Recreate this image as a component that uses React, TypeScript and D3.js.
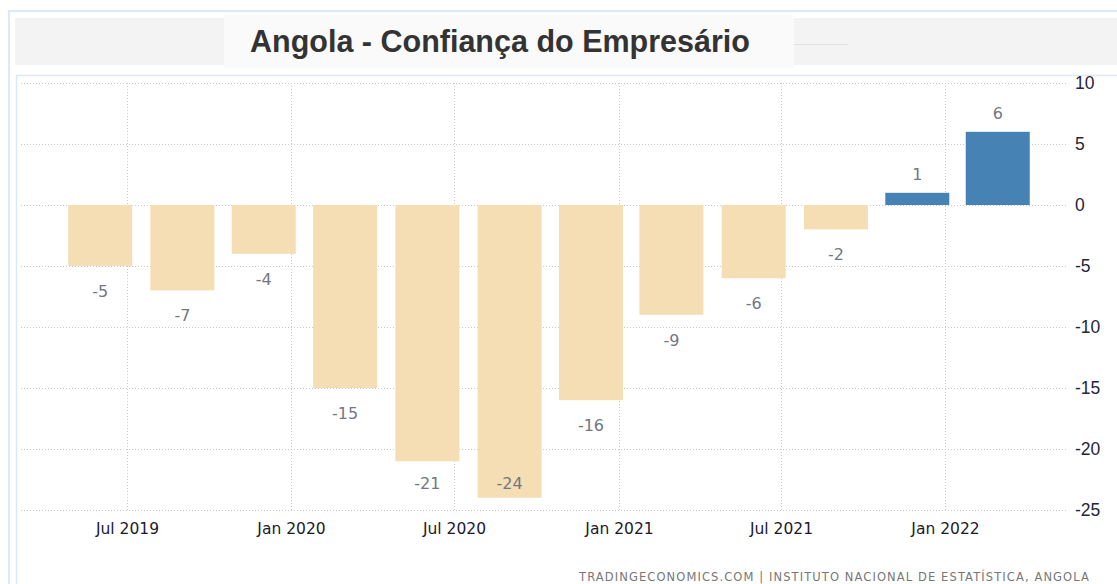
import React from 'react';
import * as d3 from 'd3';

// quarterly readings (first day of the reference month)
const dates = [
  '2019-06-01', '2019-09-01', '2019-12-01', '2020-03-01',
  '2020-06-01', '2020-09-01', '2020-12-01', '2021-03-01',
  '2021-06-01', '2021-09-01', '2021-12-01', '2022-03-01',
];
const values = [-5, -7, -4, -15, -21, -24, -16, -9, -6, -2, 1, 6];
const yTicks = [10, 5, 0, -5, -10, -15, -20, -25];
const xTicks = ['2019-07-01', '2020-01-01', '2020-07-01', '2021-01-01', '2021-07-01', '2022-01-01'];
const xTickLabels = ['Jul 2019', 'Jan 2020', 'Jul 2020', 'Jan 2021', 'Jul 2021', 'Jan 2022'];

const title = 'Angola - Confiança do Empresário';
const source = 'TRADINGECONOMICS.COM | INSTITUTO NACIONAL DE ESTATÍSTICA, ANGOLA';

const W = 1117;
const H = 584;

const App = () => {
  const parse = d3.timeParse('%Y-%m-%d');
  const x = d3.scaleTime()
    .domain([parse('2019-07-01'), parse('2022-01-01')])
    .range([127, 945]);
  const y = d3.scaleLinear().domain([-25, 10]).range([510, 83]);
  const barW = 64;

  const bars = dates.map((d, i) => ({ date: parse(d), value: values[i] }));

  return (
    <svg
      width={W}
      height={H}
      style={{ position: 'absolute', left: 0, top: 0, background: '#fff' }}
    >
      {/* outer frame */}
      <rect x={9} y={11} width={W} height={H} fill="none" stroke="#dce9f6" strokeWidth={2} />

      {/* title band */}
      <rect x={15} y={18} width={W - 15} height={47} fill="#f3f3f3" />
      <rect x={224} y={15} width={570} height={53} fill="#fafafa" />
      <line x1={794} x2={848} y1={44.5} y2={44.5} stroke="#e2e2e2" strokeWidth={1} />
      <text
        x={500}
        y={52}
        textAnchor="middle"
        fontFamily="'Liberation Sans', Arial, sans-serif"
        fontWeight="bold"
        fontSize={30.5}
        fill="#333"
      >
        {title}
      </text>

      {/* plot frame */}
      <rect x={16.5} y={75.5} width={W} height={H} fill="none" stroke="#dce9f6" strokeWidth={1.5} />

      {/* horizontal grid */}
      {yTicks.map(t => (
        <g key={t}>
          <line
            x1={21}
            x2={1068}
            y1={Math.round(y(t)) + 0.5}
            y2={Math.round(y(t)) + 0.5}
            stroke="#c8c8c8"
            strokeDasharray="1,2"
          />
          <text
            x={1075}
            y={y(t)}
            dy="0.35em"
            fontFamily="'Liberation Sans', Arial, sans-serif"
            fontSize={17.5}
            fill="#26263a"
          >
            {t}
          </text>
        </g>
      ))}

      {/* vertical grid + x labels */}
      {xTicks.map((t, i) => {
        const px = Math.round(x(parse(t))) + 0.5;
        return (
          <g key={t}>
            <line x1={px} x2={px} y1={83} y2={510} stroke="#c8c8c8" strokeDasharray="1,2" />
            <text
              x={px}
              y={534}
              textAnchor="middle"
              fontFamily="'DejaVu Sans', Verdana, sans-serif"
              fontSize={15.5}
              fill="#1a1a2a"
            >
              {xTickLabels[i]}
            </text>
          </g>
        );
      })}

      {/* bars */}
      {bars.map(b => {
        const cx = x(b.date);
        const top = y(Math.max(0, b.value));
        const bottom = y(Math.min(0, b.value));
        // labels of deep bars are kept inside the plot area
        const labelY = b.value < 0 ? Math.min(bottom + 31, 489) : top - 13;
        return (
          <g key={b.date.toISOString()}>
            <rect
              x={cx - barW / 2}
              y={top}
              width={barW}
              height={bottom - top}
              fill={b.value < 0 ? '#f5deb3' : '#4682b4'}
            />
            <text
              x={cx}
              y={labelY}
              textAnchor="middle"
              fontFamily="'DejaVu Sans', Verdana, sans-serif"
              fontSize={16}
              fill="#747782"
            >
              {b.value}
            </text>
          </g>
        );
      })}

      {/* source */}
      <text
        x={1090}
        y={581}
        textAnchor="end"
        fontFamily="'DejaVu Sans', Verdana, sans-serif"
        fontSize={11.5}
        letterSpacing={1.1}
        fill="#777"
      >
        {source}
      </text>
    </svg>
  );
};

export default App;
